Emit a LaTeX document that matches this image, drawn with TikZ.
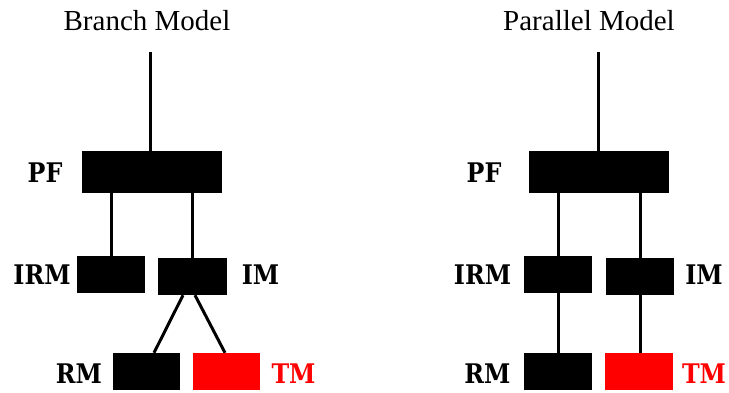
\documentclass[tikz,border=0pt]{standalone}
\usepackage{fontspec}
\setmainfont{Liberation Serif}
\newfontfamily\labfont{DejaVu Serif}[UprightFont={* Bold},FakeStretch=0.88]
\definecolor{tmred}{RGB}{255,0,0}
\begin{document}
\begin{tikzpicture}[x=1pt,y=-1pt,
  blk/.style={fill=black,draw=none,inner sep=0pt},
  box/.style={blk,minimum width=68pt,minimum height=37pt},
  redbox/.style={box,fill=tmred},
  wide/.style={blk,minimum width=140pt,minimum height=42pt},
  lab/.style={font=\labfont\fontsize{27}{30}\selectfont,inner sep=0pt,anchor=base},
  ttl/.style={font=\fontsize{29}{32}\selectfont,inner sep=0pt,anchor=base},
  conn/.style={line width=3pt}]
\useasboundingbox (0,0) rectangle (729,392);
% ---------- Branch model ----------
\node[ttl] (t1) at (147,30) {Branch Model};
\coordinate (top1) at (150,52);
\node[wide] (pf1) at (152,172) {};
\node[box] (irm1) at (111,274.5) {};
\node[box,minimum width=69pt] (im1) at (192.5,276.5) {};
\node[box,minimum width=67pt] (rm1) at (146.5,371.5) {};
\node[redbox,minimum width=67pt] (tm1) at (226.5,371.5) {};
\node[lab] (pfl1) at (45,182) {PF};
\node[lab] (irml1) at (42,284) {IRM};
\node[lab] (iml1) at (260.5,284) {IM};
\node[lab] (rml1) at (79,383) {RM};
\node[lab,text=tmred] (tml1) at (293.5,383) {TM};
\draw[conn] (top1) -- (top1 |- pf1.north);
\draw[conn] (irm1.north) -- (irm1.north |- pf1.south);
\draw[conn] (im1.north) -- (im1.north |- pf1.south);
\draw[conn] ([xshift=-9.5pt]im1.south) -- ([xshift=7.5pt]rm1.north);
\draw[conn] ([xshift=2.5pt]im1.south) -- ([xshift=-1.5pt]tm1.north);
% ---------- Parallel model ----------
\node[ttl] (t2) at (589,30) {Parallel Model};
\coordinate (top2) at (598,52);
\node[wide] (pf2) at (599,172) {};
\node[box] (irm2) at (558,274.5) {};
\node[box] (im2) at (640,276.5) {};
\node[box] (rm2) at (558,371.5) {};
\node[redbox] (tm2) at (639,371.5) {};
\node[lab] (pfl2) at (484,182) {PF};
\node[lab] (irml2) at (482.5,284) {IRM};
\node[lab] (iml2) at (704,284) {IM};
\node[lab] (rml2) at (487.5,383) {RM};
\node[lab,text=tmred] (tml2) at (704,383) {TM};
\draw[conn] (top2) -- (top2 |- pf2.north);
\draw[conn] (irm2.north) -- (irm2.north |- pf2.south);
\draw[conn] (im2.north) -- (im2.north |- pf2.south);
\draw[conn] (irm2.south) -- (rm2.north);
\draw[conn] (im2.south) -- (im2.south |- tm2.north);
\end{tikzpicture}
\end{document}
